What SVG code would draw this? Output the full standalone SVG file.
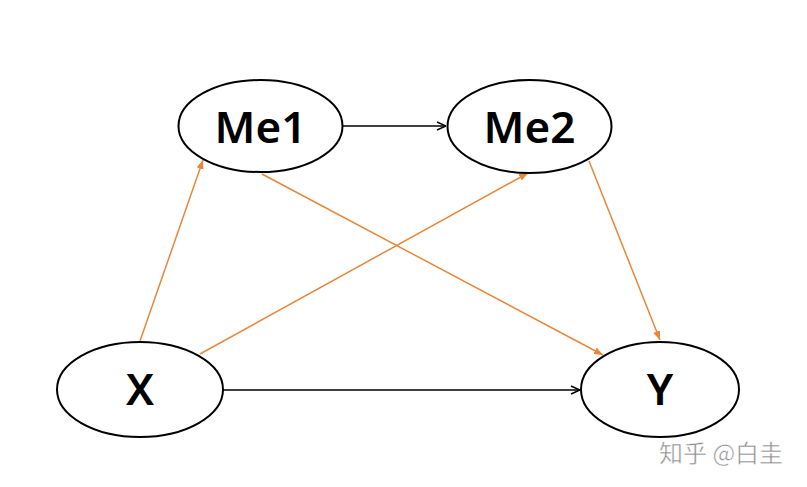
<svg xmlns="http://www.w3.org/2000/svg" width="807" height="487" viewBox="0 0 807 487">
<style>
.node ellipse{fill:#fff;stroke:#000;stroke-width:2}
.node text{font-family:"Noto Sans","Liberation Sans",Arial,sans-serif;font-weight:600;font-size:44px;fill:#000;text-anchor:middle}
.k{stroke:#000;stroke-width:1.5;fill:none}
.o{stroke:#E8863A;stroke-width:1.5;fill:none}
.wm{font-family:"Noto Sans CJK SC",sans-serif;font-size:24px;fill:#8c8c8c;stroke:#fff;stroke-width:0.5}
</style>
<defs>
<marker id="ak" viewBox="0 0 10 10" refX="10" refY="5" markerWidth="10" markerHeight="10" markerUnits="userSpaceOnUse" orient="auto">
<path d="M1,1 L10,5 L1,9" fill="none" stroke="#000" stroke-width="1.5"/>
</marker>
<marker id="ao" viewBox="0 0 10 10" refX="10" refY="5" markerWidth="9" markerHeight="9" markerUnits="userSpaceOnUse" orient="auto">
<path d="M0,1 L10,5 L0,9 Z" fill="#E8863A"/>
</marker>
</defs>
<rect width="807" height="487" fill="#fff"/>
<g id="connectors">
<line class="k" x1="343" y1="126" x2="446" y2="126" marker-end="url(#ak)"/>
<line class="k" x1="223" y1="390" x2="580" y2="390" marker-end="url(#ak)"/>
<line class="o" x1="140" y1="341" x2="203" y2="160" marker-end="url(#ao)"/>
<line class="o" x1="200" y1="354" x2="528" y2="173" marker-end="url(#ao)"/>
<line class="o" x1="262" y1="174" x2="603" y2="355" marker-end="url(#ao)"/>
<line class="o" x1="589" y1="161" x2="660" y2="340" marker-end="url(#ao)"/>
</g>
<g id="Me1" class="node"><ellipse cx="260.5" cy="126" rx="82" ry="46"/><text x="260.5" y="143">Me1</text></g>
<g id="Me2" class="node"><ellipse cx="529.5" cy="126.5" rx="82" ry="46.5"/><text x="529.5" y="143">Me2</text></g>
<g id="X" class="node"><ellipse cx="140" cy="389.5" rx="83" ry="47.5"/><text x="140" y="405">X</text></g>
<g id="Y" class="node"><ellipse cx="660" cy="389.5" rx="79" ry="47.5"/><text x="660" y="405">Y</text></g>
<text class="wm" x="659" y="462">知乎 @白圭</text>
</svg>
